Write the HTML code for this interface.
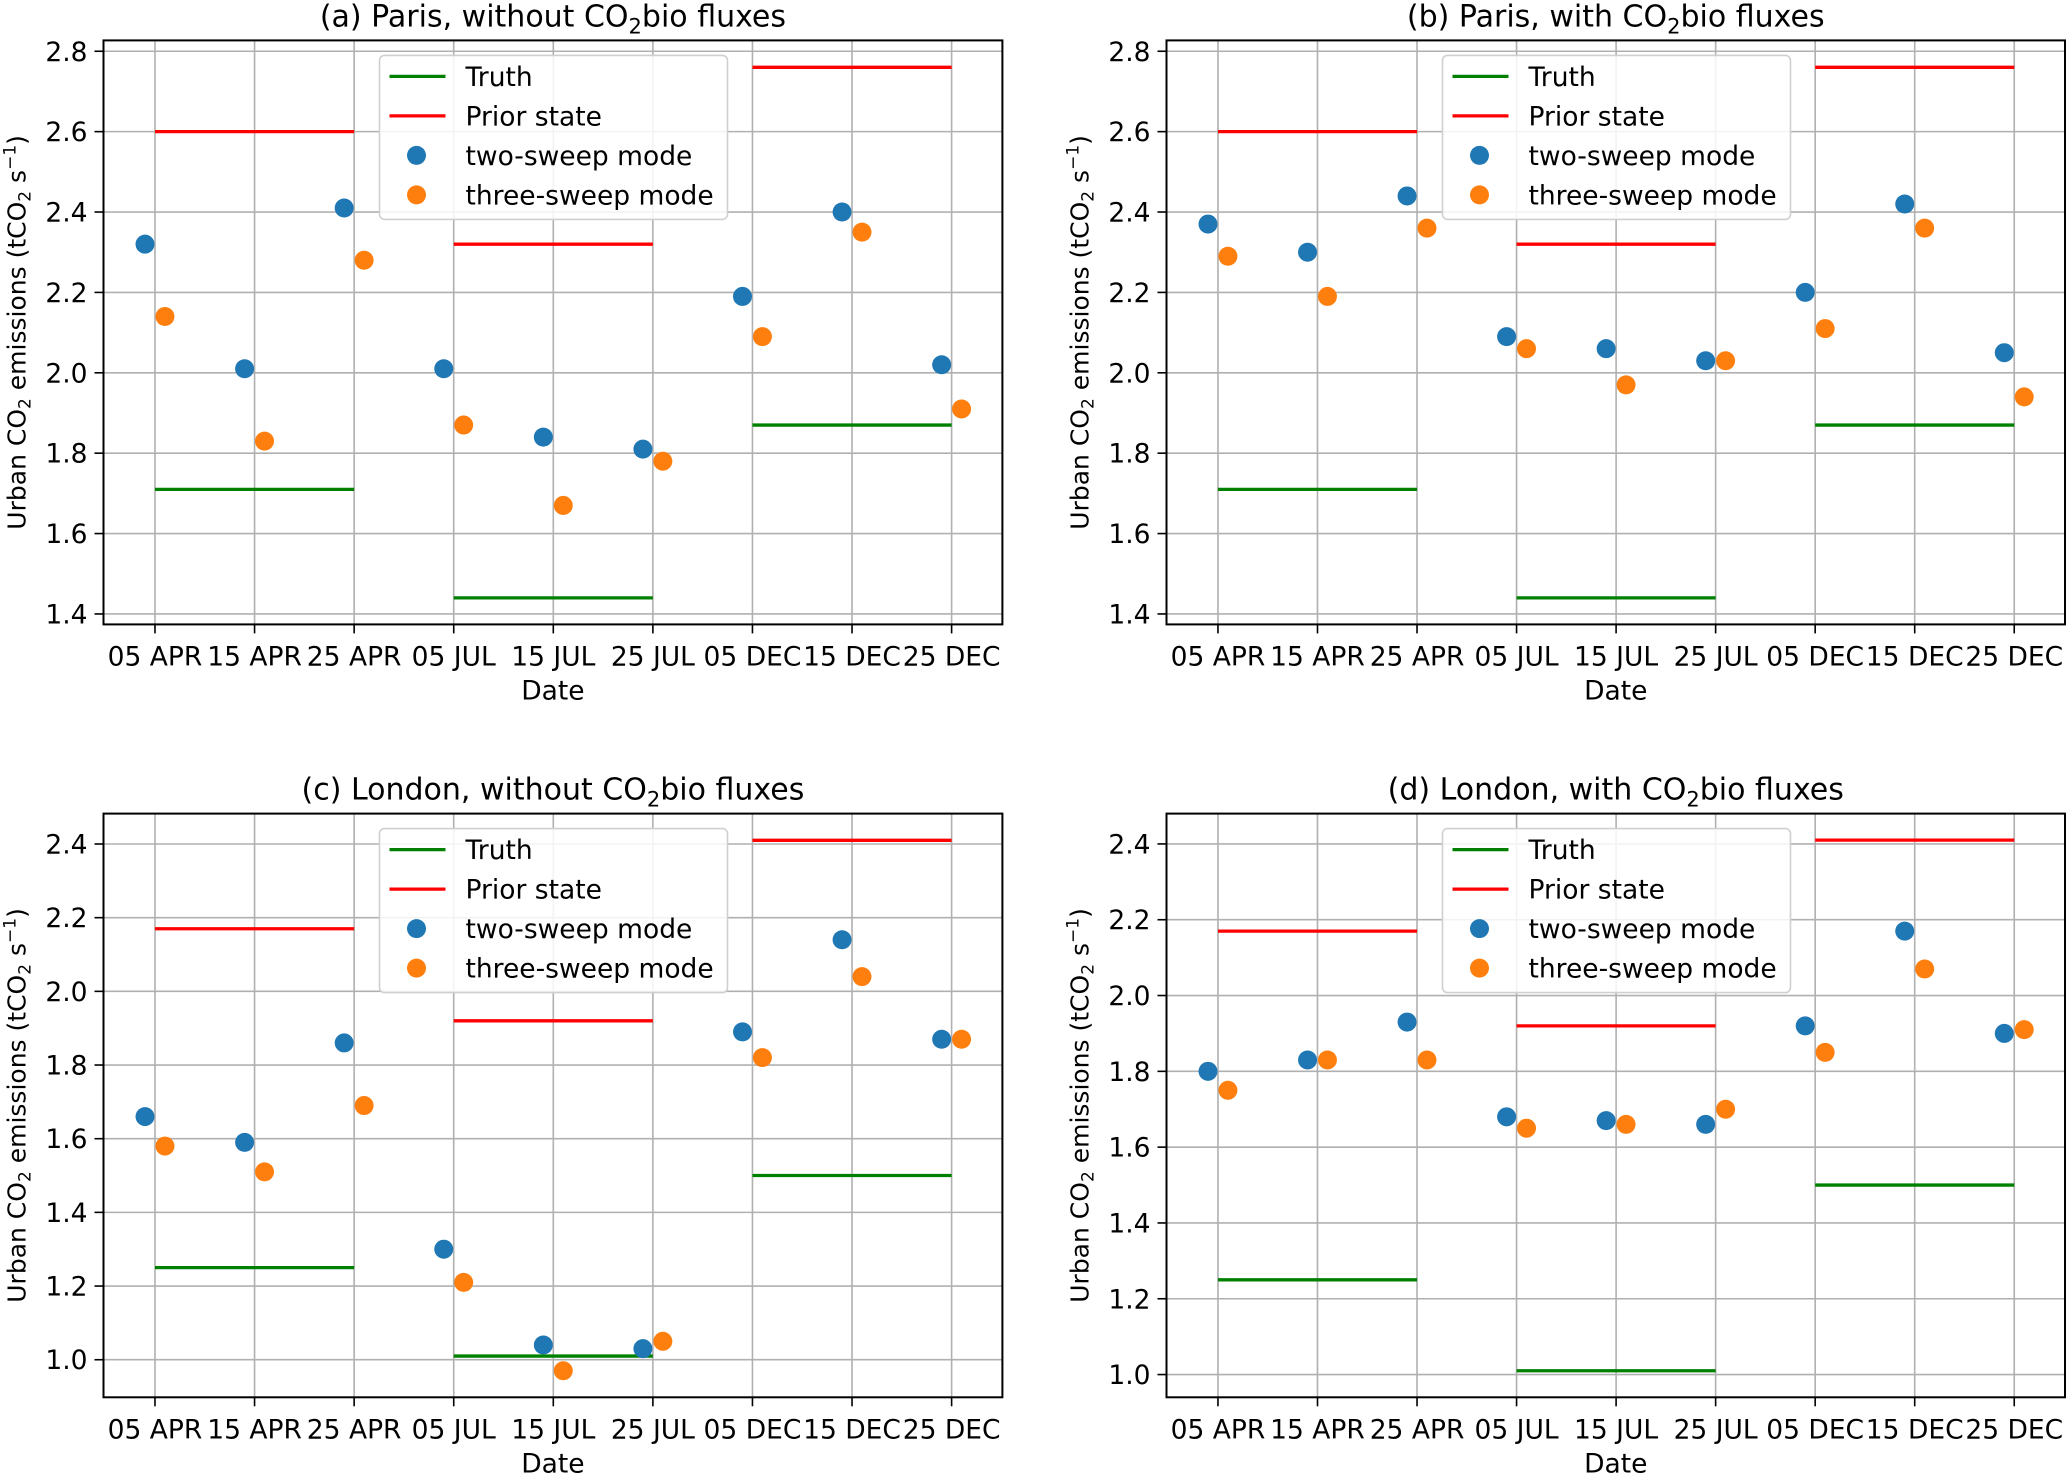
<!DOCTYPE html>
<html><head><meta charset="utf-8"><style>
html,body{margin:0;padding:0;background:#fff;}
svg{display:block;font-family:"DejaVu Sans","Liberation Sans",sans-serif;}
</style></head><body>
<svg id="fig" width="2067" height="1475" viewBox="0 0 2067 1475" xmlns="http://www.w3.org/2000/svg"></svg>
<script>
const categories = ["05 APR","15 APR","25 APR","05 JUL","15 JUL","25 JUL","05 DEC","15 DEC","25 DEC"];
const titlesPre = ["(a) Paris, without CO","(b) Paris, with CO","(c) London, without CO","(d) London, with CO"];
const twoA = [2.32,2.01,2.41,2.01,1.84,1.81,2.19,2.40,2.02];
const threeA = [2.14,1.83,2.28,1.87,1.67,1.78,2.09,2.35,1.91];
const twoB = [2.37,2.30,2.44,2.09,2.06,2.03,2.20,2.42,2.05];
const threeB = [2.29,2.19,2.36,2.06,1.97,2.03,2.11,2.36,1.94];
const twoC = [1.66,1.59,1.86,1.30,1.04,1.03,1.89,2.14,1.87];
const threeC = [1.58,1.51,1.69,1.21,0.97,1.05,1.82,2.04,1.87];
const twoD = [1.80,1.83,1.93,1.68,1.67,1.66,1.92,2.17,1.90];
const threeD = [1.75,1.83,1.83,1.65,1.66,1.70,1.85,2.07,1.91];
const truthParis = [1.71,1.44,1.87];
const priorParis = [2.60,2.32,2.76];
const truthLondon = [1.25,1.01,1.50];
const priorLondon = [2.17,1.92,2.41];
const yTicksParis = [1.4,1.6,1.8,2.0,2.2,2.4,2.6,2.8];
const yTicksLondon = [1.0,1.2,1.4,1.6,1.8,2.0,2.2,2.4];

const NS="http://www.w3.org/2000/svg";
const svg=document.getElementById('fig');
function mk(tag,attrs,parent){const e=document.createElementNS(NS,tag);for(const k in attrs)e.setAttribute(k,attrs[k]);(parent||svg).appendChild(e);return e;}

const FS=26.5;
const panels=[
 {L:103.5,R:1002.4,T:40.4,B:624.4,ymin:1.374,ymax:2.827,two:twoA,three:threeA,truth:truthParis,prior:priorParis,ticks:yTicksParis,name:'a'},
 {L:1166.5,R:2065,T:40.4,B:624.4,ymin:1.374,ymax:2.827,two:twoB,three:threeB,truth:truthParis,prior:priorParis,ticks:yTicksParis,name:'b'},
 {L:103.5,R:1002.4,T:813.6,B:1397.3,ymin:0.898,ymax:2.4825,two:twoC,three:threeC,truth:truthLondon,prior:priorLondon,ticks:yTicksLondon,name:'c'},
 {L:1166.5,R:2065,T:813.6,B:1397.3,ymin:0.94,ymax:2.48,two:twoD,three:threeD,truth:truthLondon,prior:priorLondon,ticks:yTicksLondon,name:'d'}
];

panels.forEach((p,pi)=>{
 const g=mk('g',{});
 
 
 const xs=i=>p.L+(i+0.517)/(9.027)*(p.R-p.L);
 const ys=v=>p.B-(v-p.ymin)/(p.ymax-p.ymin)*(p.B-p.T);
 categories.forEach((c,i)=>{
  const x=xs(i);
  const gl=mk('line',{x1:x,x2:x,y1:p.T,y2:p.B,stroke:'#b0b0b0','stroke-width':1.6},g);
  
  
  mk('line',{x1:x,x2:x,y1:p.B,y2:p.B+9,stroke:'#000','stroke-width':1.6},g);
  const t=mk('text',{x:x,y:p.B+41,'text-anchor':'middle','font-size':FS,fill:'#000'},g);
  t.textContent=c;
  
  
 });
 p.ticks.forEach(v=>{
  const y=ys(v);
  const gl=mk('line',{x1:p.L,x2:p.R,y1:y,y2:y,stroke:'#b0b0b0','stroke-width':1.6},g);
  
  
  mk('line',{x1:p.L-9,x2:p.L,y1:y,y2:y,stroke:'#000','stroke-width':1.6},g);
  const t=mk('text',{x:p.L-16,y:y+9.5,'text-anchor':'end','font-size':FS,fill:'#000'},g);
  t.textContent=v.toFixed(1);
  
  
 });
 for(let k=0;k<3;k++){
  const x1=xs(3*k),x2=xs(3*k+2);
  const tl=mk('line',{x1:x1,x2:x2,y1:ys(p.truth[k]),y2:ys(p.truth[k]),stroke:'#008000','stroke-width':3.3},g);
  
  
  const pl=mk('line',{x1:x1,x2:x2,y1:ys(p.prior[k]),y2:ys(p.prior[k]),stroke:'#ff0000','stroke-width':3.3},g);
  
  
 }
 p.two.forEach((v,i)=>{
  const c=mk('circle',{cx:xs(i-0.1),cy:ys(v),r:9.5,fill:'#1f77b4'},g);
  
  
 });
 p.three.forEach((v,i)=>{
  const c=mk('circle',{cx:xs(i+0.1),cy:ys(v),r:9.5,fill:'#ff7f0e'},g);
  
  
 });
 mk('rect',{x:p.L,y:p.T,width:p.R-p.L,height:p.B-p.T,fill:'none',stroke:'#000','stroke-width':2},g);
 const lx=p.L+276, ly=p.T+15;
 const lg=mk('g',{},g);
 
 
 mk('rect',{x:lx,y:ly,width:348,height:164,rx:5,fill:'#fff','fill-opacity':0.85,stroke:'#d0d0d0','stroke-width':1.6},lg);
 const items=[['Truth','line','#008000'],['Prior state','line','#ff0000'],['two-sweep mode','dot','#1f77b4'],['three-sweep mode','dot','#ff7f0e']];
 items.forEach((it,k)=>{
  const cy=ly+21+k*39.5;
  if(it[1]==='line') mk('line',{x1:lx+10,x2:lx+66,y1:cy,y2:cy,stroke:it[2],'stroke-width':3.3},lg);
  else mk('circle',{cx:lx+37,cy:cy,r:9.5,fill:it[2]},lg);
  const t=mk('text',{x:lx+86,y:cy+9.5,'font-size':FS,fill:'#000'},lg);
  t.textContent=it[0];
  
  
 });
 const tt=mk('text',{x:(p.L+p.R)/2,y:p.T-14,'text-anchor':'middle','font-size':30,fill:'#000'},g);
 
 
 tt.appendChild(document.createTextNode(titlesPre[pi]));
 const s=mk('tspan',{'font-size':21,dy:7},tt); s.textContent='2';
 const r=mk('tspan',{dy:-7},tt); r.textContent='bio fluxes';
 const xl=mk('text',{x:(p.L+p.R)/2,y:p.B+75,'text-anchor':'middle','font-size':FS,fill:'#000'},g);
 xl.textContent='Date';
 
 
 const cx=p.L-78, cy=(p.T+p.B)/2;
 const yl=mk('text',{x:cx,y:cy,'text-anchor':'middle','font-size':25,fill:'#000',transform:`rotate(-90 ${cx} ${cy})`},g);
 
 
 yl.appendChild(document.createTextNode('Urban CO'));
 let a=mk('tspan',{'font-size':17,dy:5},yl); a.textContent='2';
 a=mk('tspan',{dy:-5},yl); a.textContent=' emissions (tCO';
 a=mk('tspan',{'font-size':17,dy:5},yl); a.textContent='2';
 a=mk('tspan',{dy:-5},yl); a.textContent=' s';
 a=mk('tspan',{'font-size':17,dy:-10},yl); a.textContent='\u22121';
 a=mk('tspan',{dy:10},yl); a.textContent=')';
});
</script>
</body></html>
